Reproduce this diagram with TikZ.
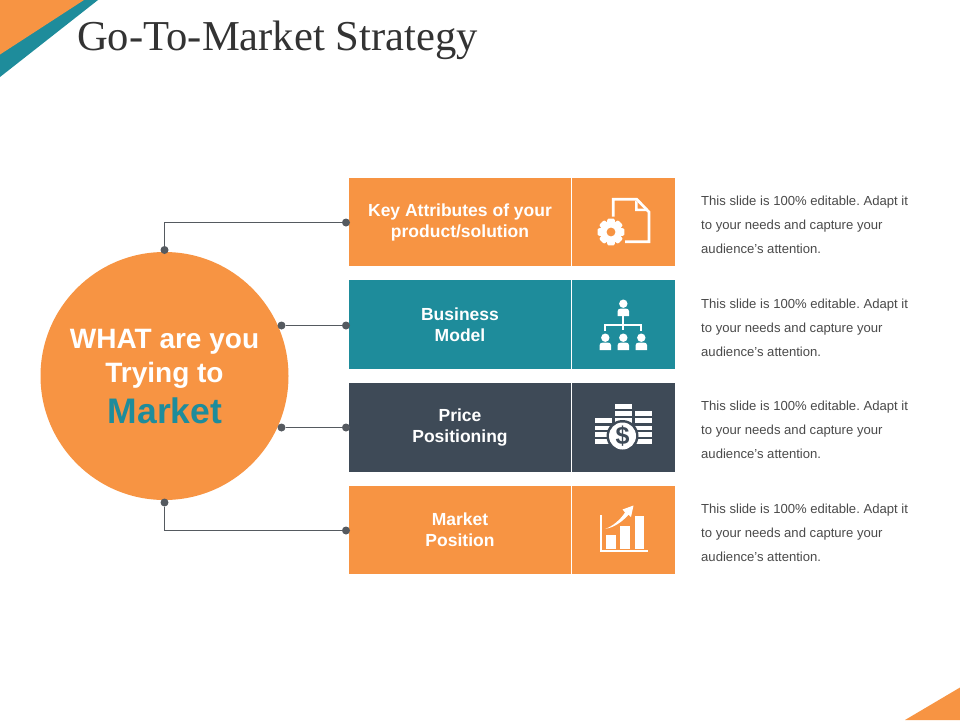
\documentclass[tikz,border=0pt]{standalone}
\usepackage{fontspec}
\setmainfont{Liberation Sans}
\newfontfamily\titlefont{Liberation Serif}
\definecolor{gorange}{HTML}{F79443}
\definecolor{gteal}{HTML}{1E8C9B}
\definecolor{gdark}{HTML}{3E4A57}
\definecolor{gline}{HTML}{555A60}
\definecolor{gtext}{HTML}{4A4A4A}
\tikzset{
  labelbox/.style={minimum width=222pt,minimum height=88.5pt,inner sep=0pt,text=white,align=center,
    font=\fontsize{17.5}{21}\selectfont\bfseries},
  iconbox/.style={minimum width=102.8pt,minimum height=88.5pt,inner sep=0pt},
  dotnode/.style={circle,fill=gline,minimum size=8pt,inner sep=0pt},
  wire/.style={draw=gline,line width=1.2pt},
  bodytext/.style={anchor=west,inner sep=0pt,align=left,text=gtext,font=\frenchspacing\fontsize{13.1}{24}\selectfont},
  iconline/.style={draw=white,line width=2.7pt},
  person/.pic={
    \fill[white] (0,0) circle (4.2);
    \fill[white] (-5.7,12.4) -- (-5.7,7.5) .. controls (-5.7,5.6) and (-4,4.9) .. (-2.5,4.9) -- (2.5,4.9) .. controls (4,4.9) and (5.7,5.6) .. (5.7,7.5) -- (5.7,12.4) -- cycle;
  }
}
\begin{document}
\begin{tikzpicture}[x=1pt,y=-1pt]
\useasboundingbox (0,0) rectangle (960,720);
\fill[white] (0,0) rectangle (960,720);
% corners
\fill[gteal] (83,0) -- (98,0) -- (0,77) -- (0,54) -- cycle;
\fill[gorange] (0,0) -- (84,0) -- (0,54.5) -- cycle;
\fill[gorange] (905,720) -- (960,687.5) -- (960,720) -- cycle;
% title
\node[anchor=base west,inner sep=0pt,text=black!80,font=\titlefont\fontsize{42.6}{48}\selectfont] (title) at (77,50) {Go-To-Market Strategy};
% circle
\node[circle,fill=gorange,minimum size=248pt,inner sep=0pt] (main) at (164.5,376) {};
\node[inner sep=0pt,align=center,text=white,font=\fontsize{28}{34}\selectfont\bfseries] (maintext) at (164.5,376.5)
  {WHAT are you\\Trying to\\[7pt]{\fontsize{35.5}{38}\selectfont\color{gteal}\hspace*{1pt}Market}};
% boxes
\node[labelbox,fill=gorange] (k1) at (460,222) {Key Attributes of your\\product/solution};
\node[iconbox,fill=gorange] (i1) at (623.6,222) {};
\node[labelbox,fill=gteal] (k2) at (460,324.5) {Business\\Model};
\node[iconbox,fill=gteal] (i2) at (623.6,324.5) {};
\node[labelbox,fill=gdark] (k3) at (460,427.5) {Price\\Positioning};
\node[iconbox,fill=gdark] (i3) at (623.6,427.5) {};
\node[labelbox,fill=gorange] (k4) at (460,530) {Market\\Position};
\node[iconbox,fill=gorange] (i4) at (623.6,530) {};
% connectors
\node[dotnode] (a1) at (164.5,250) {};
\node[dotnode] (a2) at (281.5,325.5) {};
\node[dotnode] (a3) at (281.5,427.5) {};
\node[dotnode] (a4) at (164.5,502.5) {};
\node[dotnode] (b1) at (346,222.5) {};
\node[dotnode] (b2) at (346,325.5) {};
\node[dotnode] (b3) at (346,427.5) {};
\node[dotnode] (b4) at (346,530.5) {};
\draw[wire] (a1) |- (b1);
\draw[wire] (a2) -- (b2);
\draw[wire] (a3) -- (b3);
\draw[wire] (a4) |- (b4);
% body texts
\node[bodytext] (t1) at (701,225) {This slide is 100\% editable. Adapt it\\to your needs and capture your\\audience's attention.};
\node[bodytext] (t2) at (701,328) {This slide is 100\% editable. Adapt it\\to your needs and capture your\\audience's attention.};
\node[bodytext] (t3) at (701,430) {This slide is 100\% editable. Adapt it\\to your needs and capture your\\audience's attention.};
\node[bodytext] (t4) at (701,533) {This slide is 100\% editable. Adapt it\\to your needs and capture your\\audience's attention.};
% icon 1: document and gear
\draw[iconline,line cap=butt,line join=miter] (613.3,216.5) -- (613.3,199.2) -- (636.7,199.2) -- (649,212) -- (649,241.7) -- (625,241.7);
\fill[white] (635,200.5) -- (635,211) -- (648,211) -- (646,208.5) -- (637.5,208.5) -- (637.5,202) -- cycle;
\foreach \a in {0,45,...,315}{
  \fill[white,rounded corners=1pt,rotate around={\a:(611,232)}] (607.5,218.7) -- (614.5,218.7) -- (615.5,225) -- (606.5,225) -- cycle;
}
\fill[white] (611,232) circle (10.3);
\fill[gorange] (611,232) circle (4.4);
% icon 2: organisation
\pic at (623.3,303.7) {person};
\pic at (605.3,337.7) {person};
\pic at (623.3,337.7) {person};
\pic at (641.3,337.7) {person};
\draw[iconline,line width=2pt] (623.3,316) -- (623.3,330);
\draw[iconline,line width=2pt] (605.3,330.5) -- (605.3,325) -- (641.3,325) -- (641.3,330.5);
% icon 3: coins
\foreach \yt/\yb in {418.3/423.3,425.7/430,432.3/436.7,439.3/444}{\fill[white] (595,\yt) rectangle (611.7,\yb);}
\foreach \yt/\yb in {404/409.3,411/416,418.3/423.3}{\fill[white] (615,\yt) rectangle (631.7,\yb);}
\foreach \yt/\yb in {411/416,418.3/423.3,425.7/430,432.3/436.7,439.3/444}{\fill[white] (635,\yt) rectangle (652.3,\yb);}
\fill[gdark] (622.5,436) circle (16);
\fill[white] (622.5,436) circle (13.5);
\node[inner sep=0pt,text=gdark,font=\fontsize{25}{25}\selectfont\bfseries] (dollar) at (622.5,436) {\$};
% icon 4: chart
\fill[white] (600,515) rectangle (602.3,551);
\fill[white] (600,549.6) rectangle (648,552);
\fill[white] (606,535) rectangle (615.7,548.8);
\fill[white] (620.3,526) rectangle (630,548.8);
\fill[white] (634.7,515.7) rectangle (644.3,548.8);
\fill[white] (605.5,528.8) .. controls (613,526) and (620,520) .. (625,512.5) -- (622.5,509.5) -- (633.5,505.5) -- (631,517) -- (628.5,514.7) .. controls (622,522) and (614,527.5) .. (605.5,528.8) -- cycle;
\end{tikzpicture}
\end{document}
